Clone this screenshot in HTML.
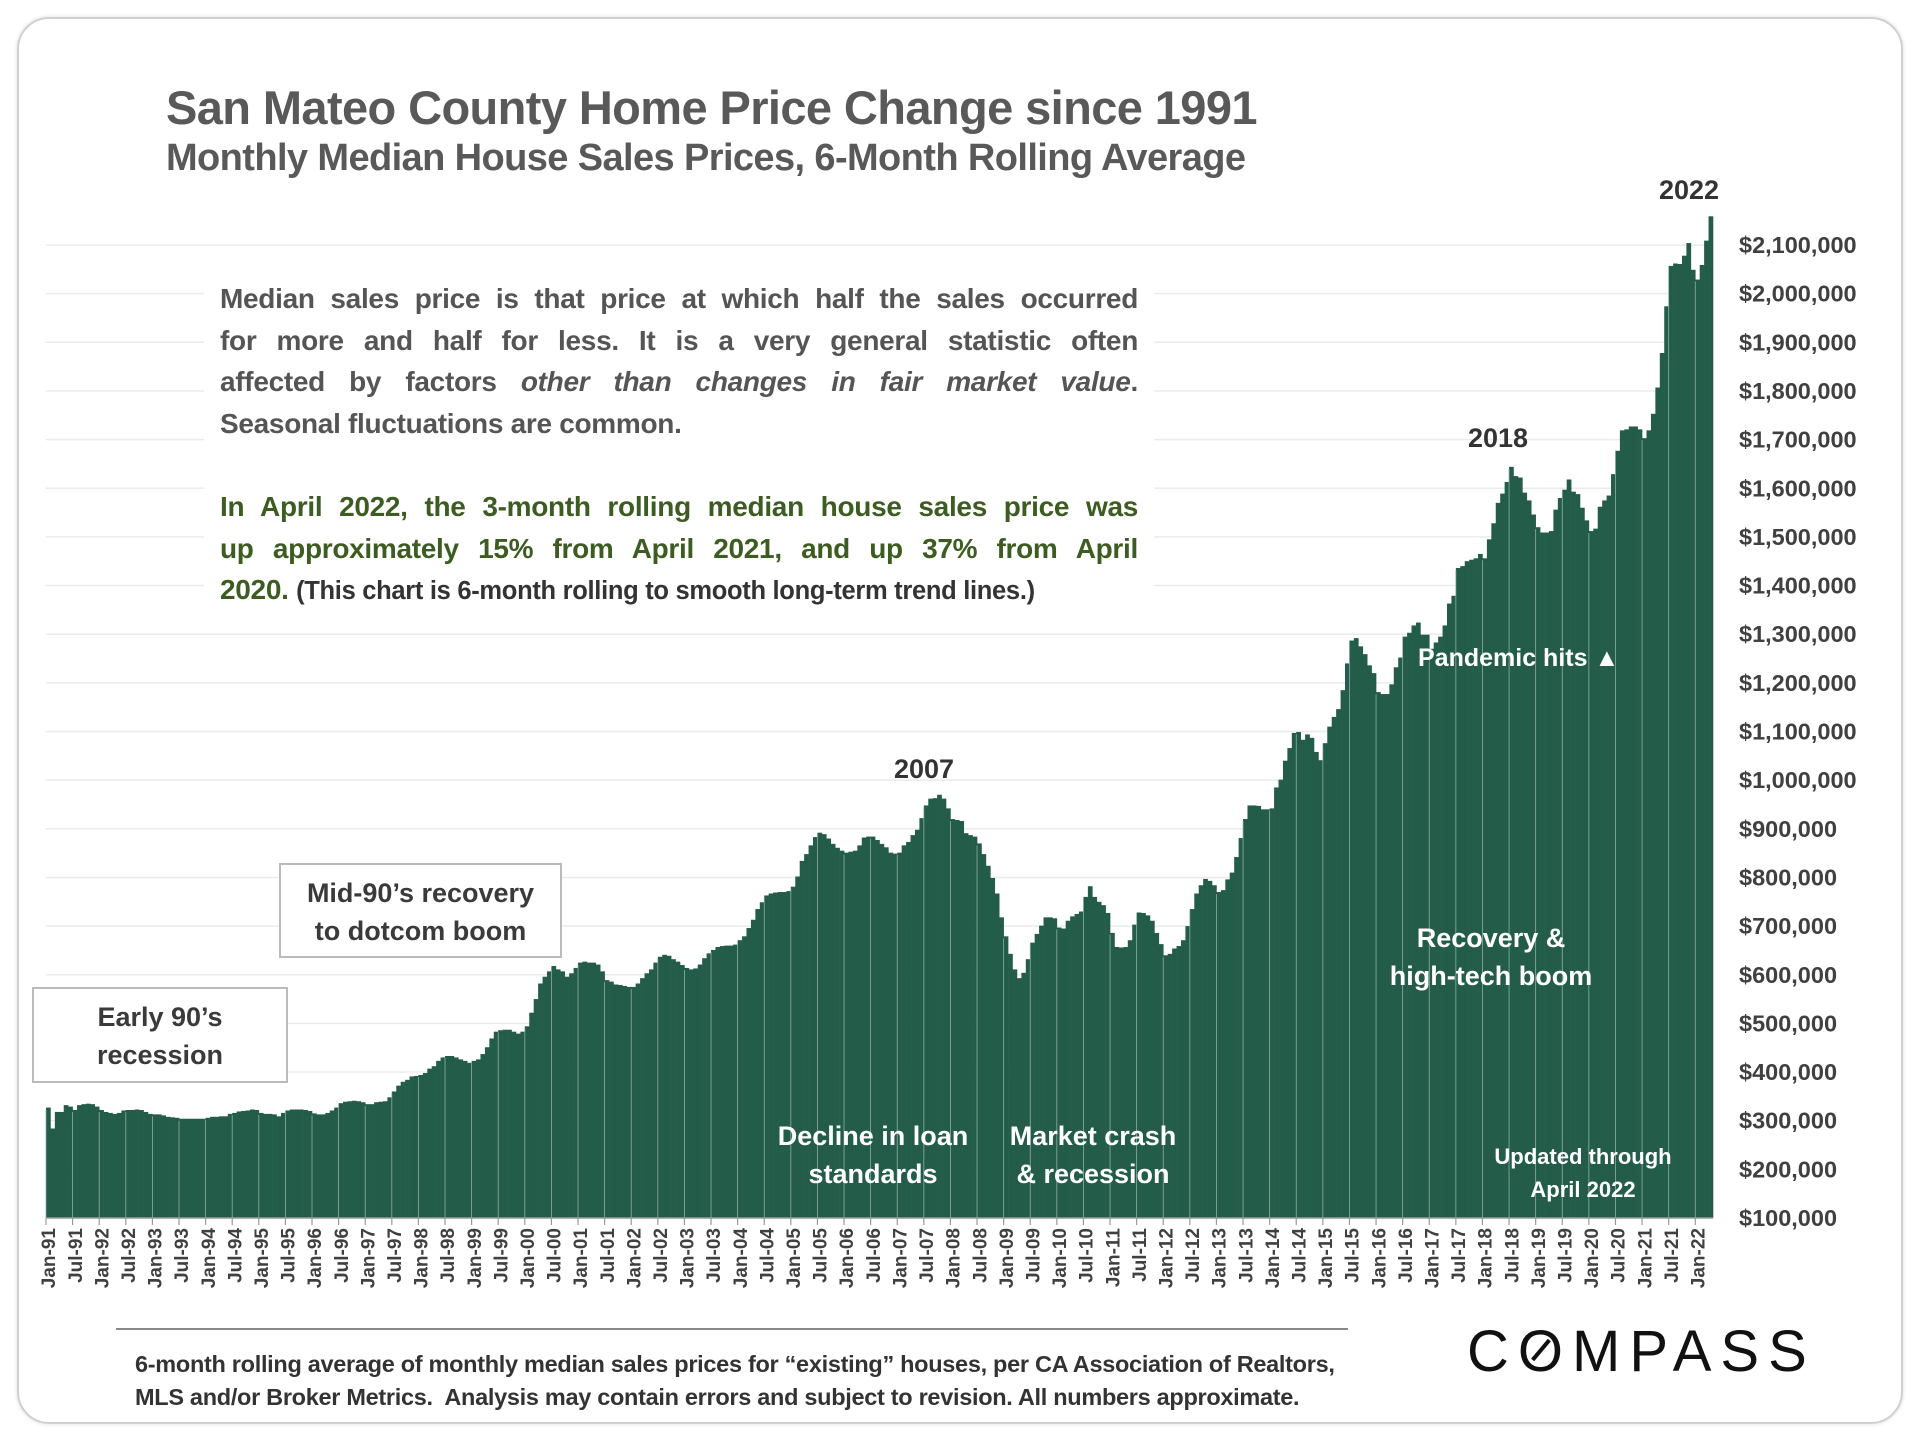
<!DOCTYPE html>
<html><head><meta charset="utf-8"><style>
html,body{margin:0;padding:0;background:#fff;}
body{width:1920px;height:1440px;position:relative;overflow:hidden;font-family:"Liberation Sans",sans-serif;}
.frame{position:absolute;left:17px;top:17px;width:1882px;height:1403px;border:2px solid #d0d0d0;border-radius:32px;box-shadow:0 0 4px #ddd;}
.t{position:absolute;white-space:nowrap;}
.jl{display:block;text-align:justify;text-align-last:justify;white-space:nowrap;}
.ll{display:block;text-align:left;white-space:nowrap;}
</style></head><body>
<div class="frame"></div>
<svg id="chart" width="1920" height="1440" style="position:absolute;left:0;top:0"></svg>
<div class="t" style="left:166px;top:80px;font-size:47px;font-weight:bold;color:#595959;letter-spacing:-0.6px;">San Mateo County Home Price Change since 1991</div>
<div class="t" style="left:166px;top:137px;font-size:38px;font-weight:bold;color:#595959;letter-spacing:-0.6px;">Monthly Median House Sales Prices, 6-Month Rolling Average</div>
<div style="position:absolute;left:204px;top:266px;width:950px;height:350px;background:#fff;"></div>
<div style="position:absolute;left:220px;top:278px;width:918px;font-size:28px;line-height:41.6px;font-weight:bold;color:#555;letter-spacing:-0.3px;">
<span class="jl">Median sales price is that price at which half the sales occurred</span>
<span class="jl">for more and half for less. It is a very general statistic often</span>
<span class="jl">affected by factors <i>other than changes in fair market value</i>.</span>
<span class="ll">Seasonal fluctuations are common.</span></div>
<div style="position:absolute;left:220px;top:486px;width:918px;font-size:28px;line-height:41.6px;font-weight:bold;color:#3d5c21;letter-spacing:-0.3px;">
<span class="jl">In April 2022, the 3-month rolling median house sales price was</span>
<span class="jl">up approximately 15% from April 2021, and up 37% from April</span>
<span class="ll">2020. <span style="font-size:25.5px;color:#333;">(This chart is 6-month rolling to smooth long-term trend lines.)</span></span></div>
<div style="position:absolute;left:279px;top:863px;width:283px;height:95px;border:2px solid #bbb;background:#fff;font-size:27px;font-weight:bold;color:#3a3a3a;text-align:center;line-height:38px;padding-top:9px;box-sizing:border-box;">Mid-90’s recovery<br>to dotcom boom</div>
<div style="position:absolute;left:32px;top:987px;width:256px;height:96px;border:2px solid #bbb;background:#fff;font-size:27px;font-weight:bold;color:#3a3a3a;text-align:center;line-height:38px;padding-top:9px;box-sizing:border-box;">Early 90’s<br>recession</div>
<div class="t" style="left:894px;top:754px;font-size:27px;font-weight:bold;color:#333;">2007</div>
<div class="t" style="left:1468px;top:423px;font-size:27px;font-weight:bold;color:#333;">2018</div>
<div class="t" style="left:1659px;top:175px;font-size:27px;font-weight:bold;color:#333;">2022</div>
<div class="t" style="left:773px;top:1117px;width:200px;text-align:center;font-size:27px;font-weight:bold;color:#fff;line-height:38px;">Decline in loan<br>standards</div>
<div class="t" style="left:993px;top:1117px;width:200px;text-align:center;font-size:27px;font-weight:bold;color:#fff;line-height:38px;">Market crash<br>&amp; recession</div>
<div class="t" style="left:1371px;top:919px;width:240px;text-align:center;font-size:27px;font-weight:bold;color:#fff;line-height:38px;">Recovery &amp;<br>high-tech boom</div>
<div class="t" style="left:1418px;top:644px;font-size:25px;font-weight:bold;color:#fff;">Pandemic hits &#9650;</div>
<div class="t" style="left:1483px;top:1140px;width:200px;text-align:center;font-size:22px;font-weight:bold;color:#fff;line-height:33px;">Updated through<br>April 2022</div>
<div style="position:absolute;left:116px;top:1328px;width:1232px;height:2px;background:#888;"></div>
<div class="t" style="left:135px;top:1348px;font-size:23.5px;font-weight:bold;color:#333;line-height:33px;letter-spacing:-0.3px;">6-month rolling average of monthly median sales prices for “existing” houses, per CA Association of Realtors,<br>MLS and/or Broker Metrics.&nbsp; Analysis may contain errors and subject to revision. All numbers approximate.</div>
<div class="t" style="left:1467px;top:1318px;font-size:58px;color:#111;letter-spacing:9px;">C<span style="position:relative;display:inline-block;">O<span style="position:absolute;left:10px;top:30px;width:26px;height:4px;background:#111;transform:rotate(-50deg);"></span></span>MPASS</div>
<script>
const startYear = 1991;
const values = [
327,284,318,318,332,329,322,332,334,335,334,329,
322,318,316,314,316,321,322,322,323,322,318,314,
313,313,311,308,307,306,304,304,304,304,304,304,
306,308,308,309,309,314,316,319,320,321,323,322,
316,314,314,313,309,316,321,323,323,323,322,320,
315,313,313,316,321,327,336,339,340,341,340,338,
334,334,338,339,340,348,360,372,380,384,391,392,
394,398,407,412,423,430,433,433,430,426,423,419,
423,426,437,451,469,483,486,487,487,483,479,483,
494,522,550,582,596,607,618,611,607,596,603,614,
625,627,625,625,621,607,589,586,580,579,577,575,
575,582,593,603,611,625,637,641,639,632,627,620,
614,611,613,621,634,644,651,657,659,660,660,662,
671,679,696,713,735,749,763,767,769,770,770,772,
781,802,834,848,866,883,892,889,880,869,861,855,
851,853,855,866,882,884,884,877,869,862,851,849,
851,866,873,887,898,922,948,962,963,970,962,942,
920,918,916,891,887,884,870,848,824,799,767,718,
679,643,611,593,604,632,666,684,701,718,718,716,
697,695,711,720,725,730,760,782,760,750,743,727,
686,657,656,657,671,703,728,727,722,711,686,663,
640,643,654,659,671,700,735,767,784,797,793,784,
770,774,796,810,842,881,920,948,948,947,940,940,
942,985,1001,1040,1066,1097,1099,1083,1094,1087,1058,1041,
1076,1110,1130,1146,1185,1240,1287,1292,1275,1259,1236,1220,
1181,1177,1177,1197,1232,1252,1295,1303,1318,1324,1299,1299,
1270,1283,1295,1318,1363,1379,1436,1440,1450,1453,1456,1465,
1456,1495,1528,1570,1589,1613,1644,1625,1622,1591,1575,1546,
1520,1509,1509,1512,1556,1580,1597,1618,1593,1588,1560,1534,
1512,1517,1562,1575,1585,1629,1677,1719,1721,1727,1727,1721,
1703,1719,1753,1807,1878,1974,2057,2062,2061,2078,2104,2049,
2029,2059,2109,2159
];
const yTicks = [100,200,300,400,500,600,700,800,900,1000,1100,1200,1300,1400,1500,1600,1700,1800,1900,2000,2100];
const monthNames = ["Jan","Jul"];

const NS = "http://www.w3.org/2000/svg";
const svg = document.getElementById("chart");
const X0 = 46, X1 = 1713, Y0 = 1218, PX = 48.65;
const step = (X1 - X0) / values.length;
function xScale(i){ return X0 + i * step; }
function yScale(v){ return Y0 - (v - 100) / 100 * PX; }
function mk(tag, attrs){ const e = document.createElementNS(NS, tag); for (const k in attrs) e.setAttribute(k, attrs[k]); svg.appendChild(e); return e; }

yTicks.forEach(t => {
  const y = yScale(t);
  const g = mk("line", {x1: X0, x2: X1, y1: y, y2: y, stroke: "#ebebeb", "stroke-width": 1.5});
  
  
  const lb = mk("text", {x: 1739, y: y + 8, "font-size": 23.5, "font-weight": "bold", fill: "#404040", "font-family": "Liberation Sans, sans-serif"});
  lb.textContent = "$" + (t * 1000).toLocaleString("en-US");
  
  
});

values.forEach((v, i) => {
  const r = mk("rect", {x: xScale(i), y: yScale(v), width: step + 0.3, height: Y0 - yScale(v), fill: "#235c48"});
  
  
  if (i % 6 === 0) {
    const sep = mk("line", {x1: xScale(i), x2: xScale(i), y1: yScale(v)+2, y2: Y0, stroke: "#8fb0a3", "stroke-width": 0.8});
    
    
  }
});

const axis = mk("line", {x1: X0, x2: X1, y1: Y0, y2: Y0, stroke: "#999", "stroke-width": 1.5});



for (let i = 0; i < values.length; i += 6) {
  const x = xScale(i);
  const tk = mk("line", {x1: x, x2: x, y1: Y0, y2: Y0 + 7, stroke: "#999", "stroke-width": 1.2});
  
  
  const yr = startYear + Math.floor(i / 12);
  const txt = monthNames[(i % 12) / 6] + "-" + String(yr % 100).padStart(2, "0");
  const cx = x + step / 2 + 7;
  const lb = mk("text", {x: cx, y: 1228, "font-size": 19, "font-weight": "bold", fill: "#404040", "text-anchor": "end", transform: `rotate(-90 ${cx} 1228)`, "font-family": "Liberation Sans, sans-serif"});
  lb.textContent = txt;
  
  
}
</script>
</body></html>
